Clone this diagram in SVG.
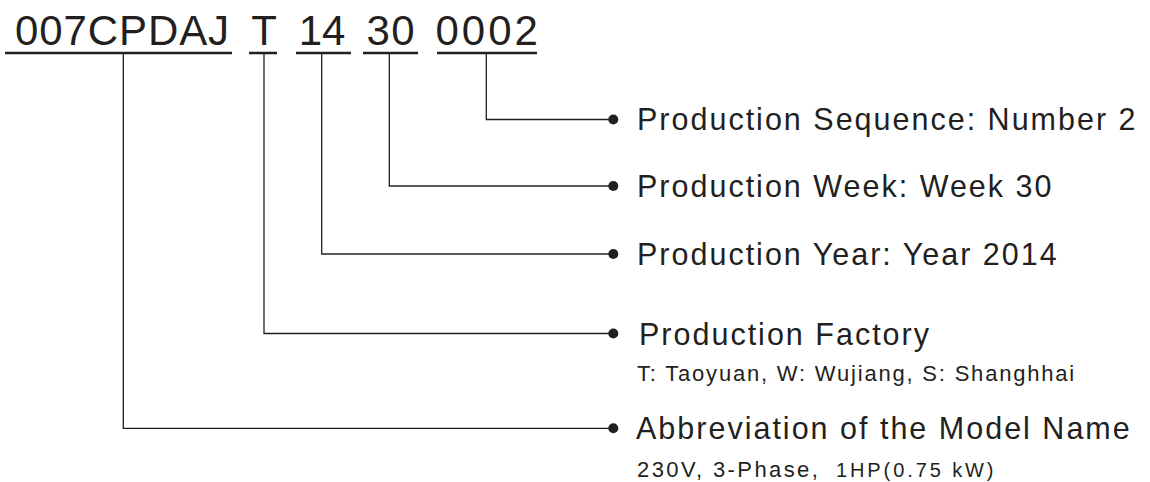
<svg xmlns="http://www.w3.org/2000/svg" width="1150" height="482" viewBox="0 0 1150 482">
<style>
text{font-family:"Liberation Sans",Arial,Helvetica,sans-serif;fill:#231f20}
.code{font-size:42px}
.main{font-size:30.5px;letter-spacing:2px}
.sub{font-size:22px}
.ul{stroke:#231f20;stroke-width:2.7;fill:none}
.conn{stroke:#231f20;stroke-width:1.3;fill:none}
.dot{fill:#231f20}
</style>
<rect width="1150" height="482" fill="#fff"/>
<g id="code">
<text class="code" x="15" y="44.5" style="letter-spacing:0.9px">007CPDAJ</text>
<text class="code" x="264" y="44.5" text-anchor="middle">T</text>
<text class="code" x="298.7" y="44.5">14</text>
<text class="code" x="366.5" y="44.5" style="letter-spacing:1.4px">30</text>
<text class="code" x="435.5" y="44.5" style="letter-spacing:3px">0002</text>
<path class="ul" d="M5 53H232M249 53H277M296 53H351M363 53H418M437 53H537"/>
</g>
<g id="connectors">
<path class="conn" d="M486.3 53V119.5H613"/>
<path class="conn" d="M389.3 53V186H613"/>
<path class="conn" d="M321.7 53V254H613"/>
<path class="conn" d="M264 53V333.5H613"/>
<path class="conn" d="M123.3 53V428.3H613"/>
<circle class="dot" cx="613.3" cy="119.5" r="5"/>
<circle class="dot" cx="613.3" cy="186" r="5"/>
<circle class="dot" cx="613.3" cy="254" r="5"/>
<circle class="dot" cx="613.3" cy="333.5" r="5"/>
<circle class="dot" cx="613.3" cy="428.3" r="5"/>
</g>
<g id="sequence"><text class="main" x="637" y="130">Production Sequence: Number 2</text></g>
<g id="week"><text class="main" x="637" y="197">Production Week: Week 30</text></g>
<g id="year"><text class="main" x="637" y="264.5">Production Year: Year 2014</text></g>
<g id="factory">
<text class="main" x="639" y="345">Production Factory</text>
<text class="sub" x="637" y="380.5" style="letter-spacing:1.8px">T: Taoyuan, W: Wujiang, S: Shanghhai</text>
</g>
<g id="model">
<text class="main" x="636" y="439">Abbreviation of the Model Name</text>
<text class="sub" x="637" y="477" style="letter-spacing:2.4px">230V, 3-Phase,</text>
<text x="836" y="477" style="font-size:20px;letter-spacing:2.9px">1HP(0.75 kW)</text>
</g>
</svg>
